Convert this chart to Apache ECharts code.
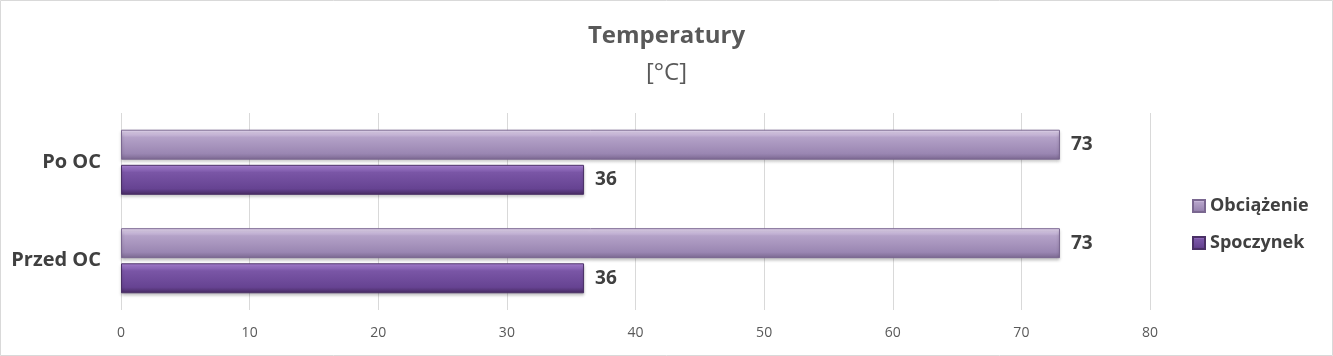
<!DOCTYPE html>
<html><head><meta charset="utf-8">
<script src="https://cdn.jsdelivr.net/npm/echarts@6/dist/echarts.min.js"></script>
<style>html,body{margin:0;padding:0;background:#fff}#c{width:1333px;height:356px}</style>
</head><body><div id="c"></div>
<script>
const categories = ['Przed OC', 'Po OC'];
const spoczynek = [36, 36];
const obciazenie = [73, 73];
const xTicks = [0, 10, 20, 30, 40, 50, 60, 70, 80];

const FONT = '"Open Sans", Lato, sans-serif';
function grad(c0, c1, c2, c3) {
  return new echarts.graphic.LinearGradient(0, 0, 0, 1, [
    {offset: 0, color: c0}, {offset: 0.25, color: c1}, {offset: 0.8, color: c2}, {offset: 1, color: c3}
  ]);
}
const chart = echarts.init(document.getElementById('c'));
chart.setOption({
  backgroundColor: '#fff',
  animation: false,
  title: {
    text: 'Temperatury', subtext: '[°C]', left: 'center', top: 19, itemGap: 13,
    textStyle: {fontFamily: FONT, fontSize: 24, fontWeight: 'bold', color: '#595959'},
    subtextStyle: {fontFamily: FONT, fontSize: 24, color: '#595959'}
  },
  graphic: [{type: 'rect', shape: {x: 0.5, y: 0.5, width: 1332, height: 355}, style: {fill: 'none', stroke: '#d9d9d9', lineWidth: 1}, silent: true}],
  legend: {
    data: ['Obciążenie', 'Spoczynek'], orient: 'vertical', left: 1187, top: 192, itemGap: 19,
    itemWidth: 12, itemHeight: 12, icon: 'rect',
    textStyle: {fontFamily: FONT, fontSize: 18, fontWeight: 'bold', color: '#404040'}
  },
  grid: {left: 121, right: 183, top: 113, bottom: 46, containLabel: false},
  xAxis: {
    type: 'value', min: xTicks[0], max: xTicks[xTicks.length - 1], interval: 10,
    axisLine: {show: false}, axisTick: {show: false},
    splitLine: {lineStyle: {color: '#d9d9d9'}},
    axisLabel: {fontFamily: FONT, fontSize: 14, color: '#595959', margin: 16}
  },
  yAxis: {
    type: 'category', data: categories,
    axisLine: {show: false}, axisTick: {show: false},
    axisLabel: {fontFamily: FONT, fontSize: 20, fontWeight: 'bold', color: '#404040', margin: 20}
  },
  series: [
    {name: 'Obciążenie', type: 'bar', data: obciazenie, barWidth: 30, barGap: '17%',
     itemStyle: {color: grad('#efe2fa', '#b4a2c8', '#9a86b2', '#7a6790'), borderColor: '#7a6790', borderWidth: 1,
       shadowColor: 'rgba(0,0,0,0.25)', shadowBlur: 3, shadowOffsetY: 2},
     label: {show: true, position: 'right', distance: 11, fontFamily: FONT, fontSize: 19, fontWeight: 'bold', color: '#404040'}},
    {name: 'Spoczynek', type: 'bar', data: spoczynek, barWidth: 30, barGap: '17%',
     itemStyle: {color: grad('#b48be0', '#7a56a6', '#664392', '#45295f'), borderColor: '#4a3066', borderWidth: 1,
       shadowColor: 'rgba(0,0,0,0.25)', shadowBlur: 3, shadowOffsetY: 2},
     label: {show: true, position: 'right', distance: 11, fontFamily: FONT, fontSize: 19, fontWeight: 'bold', color: '#404040'}}
  ]
});
</script></body></html>
